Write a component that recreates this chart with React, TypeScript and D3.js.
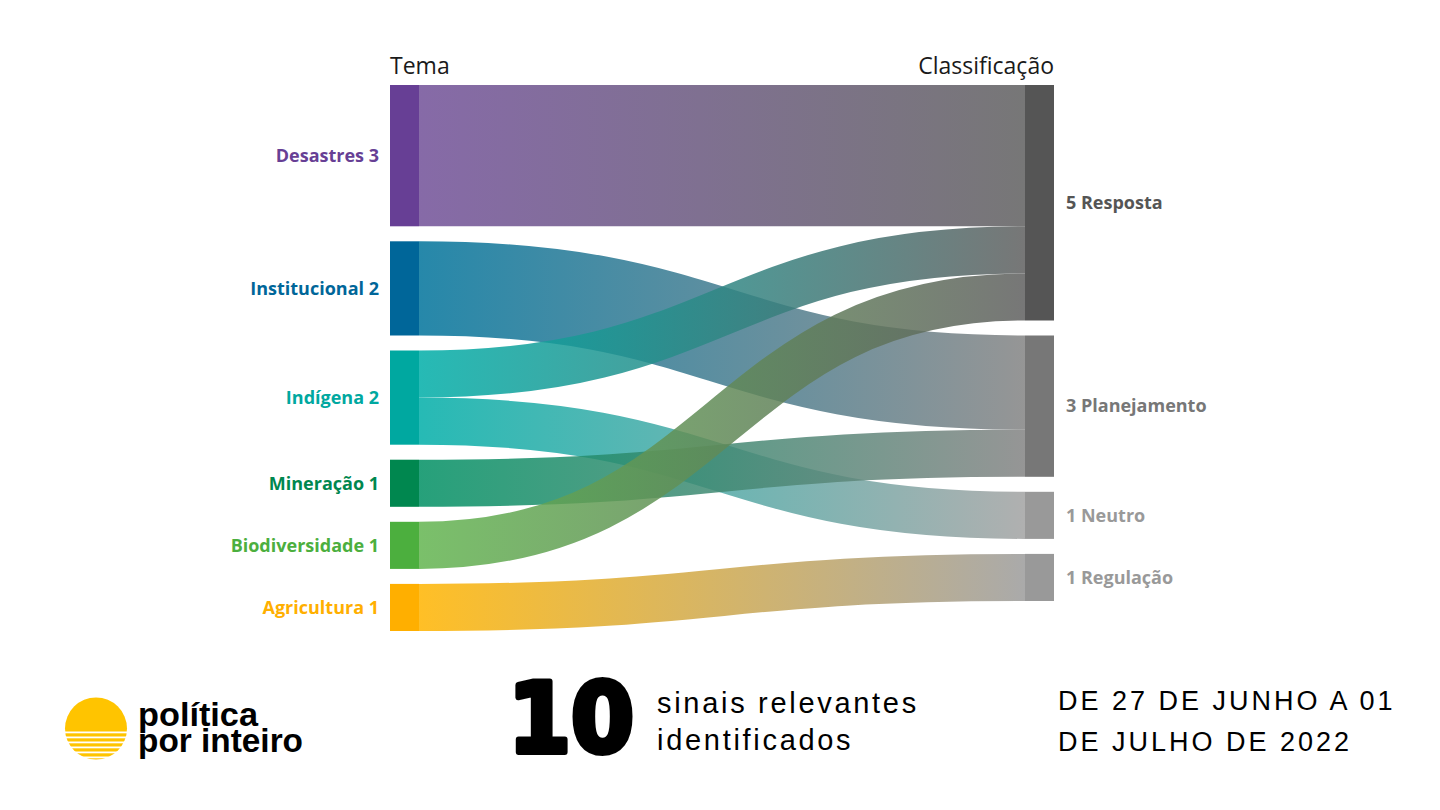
import React from 'react';
import * as d3 from 'd3';

// ---- data ----
const sourceNames = ['Desastres', 'Institucional', 'Indígena', 'Mineração', 'Biodiversidade', 'Agricultura'];
const sourceNodeColors = ['#673f95', '#006699', '#00a8a0', '#00874f', '#4caf3e', '#ffaf00'];
const sourceLinkColors = ['#715098', '#00739b', '#00aea8', '#009063', '#63b550', '#ffb400'];
const targetNames = ['Resposta', 'Planejamento', 'Neutro', 'Regulação'];
const targetNodeColors = ['#555555', '#777777', '#999999', '#999999'];
const targetLinkColors = ['#5f5f5f', '#838383', '#a2a2a2', '#9b9b9b'];
const linkSource = ['Desastres', 'Institucional', 'Indígena', 'Indígena', 'Mineração', 'Biodiversidade', 'Agricultura'];
const linkTarget = ['Resposta', 'Planejamento', 'Resposta', 'Neutro', 'Planejamento', 'Resposta', 'Regulação'];
const linkValue = [3, 2, 1, 1, 1, 1, 1];
const headerLeft = 'Tema';
const headerRight = 'Classificação';
const totalSignals = 10;

// ---- layout ----
const W = 1440, H = 810;
const top = 85, bottom = 631;
const xLeft = 390, xRight = 1025, nodeW = 29;
const pad = 15;

export default function App() {
  const total = d3.sum(linkValue);
  const srcVal = sourceNames.map(n => d3.sum(linkValue.filter((_, i) => linkSource[i] === n)));
  const tgtVal = targetNames.map(n => d3.sum(linkValue.filter((_, i) => linkTarget[i] === n)));
  const ky = (bottom - top - (sourceNames.length - 1) * pad) / total;
  const k = d3.scaleLinear().domain([0, total]).range([0, ky * total]);

  const stack = (vals: number[]) => {
    let y = top;
    return vals.map(v => {
      const y0 = y, y1 = y + k(v);
      y = y1 + pad;
      return { y0, y1 };
    });
  };
  const sNodes = stack(srcVal);
  const tNodes = stack(tgtVal);

  const sOff = sNodes.map(n => n.y0);
  const tOff = tNodes.map(n => n.y0);
  const linkGen = d3.linkHorizontal<any, [number, number]>().source(d => d.s).target(d => d.t);
  const links = linkValue.map((v, i) => {
    const si = sourceNames.indexOf(linkSource[i]);
    const ti = targetNames.indexOf(linkTarget[i]);
    const w = k(v);
    const ys = sOff[si] + w / 2; sOff[si] += w;
    const yt = tOff[ti] + w / 2; tOff[ti] += w;
    return { si, ti, w, d: linkGen({ s: [xLeft + nodeW, ys], t: [xRight, yt] }) as string };
  });

  const labelFont = '"Open Sans", "Noto Sans", sans-serif';

  return (
    <svg width={W} height={H} style={{ position: 'absolute', left: 0, top: 0, background: '#fff' }}>
      <defs>
        {links.map((l, i) => (
          <linearGradient key={i} id={`g${i}`} gradientUnits="userSpaceOnUse" x1={xLeft + nodeW} x2={xRight} y1={0} y2={0}>
            <stop offset="0%" stopColor={sourceLinkColors[l.si]} />
            <stop offset="100%" stopColor={targetLinkColors[l.ti]} />
          </linearGradient>
        ))}
      </defs>
      <rect x={0} y={0} width={W} height={H} fill="#fff" />
      <text x={xLeft} y={74} fontFamily={labelFont} fontSize={23} fill="#1a1a1a">{headerLeft}</text>
      <text x={xRight + nodeW} y={74} fontFamily={labelFont} fontSize={23} fill="#1a1a1a" textAnchor="end">{headerRight}</text>

      <g fill="none">
        {links.map((l, i) => (
          <path key={i} d={l.d} stroke={`url(#g${i})`} strokeWidth={l.w} strokeOpacity={0.85} />
        ))}
      </g>

      {sNodes.map((n, i) => (
        <g key={i}>
          <rect x={xLeft} y={n.y0} width={nodeW} height={n.y1 - n.y0} fill={sourceNodeColors[i]} />
          <text x={xLeft - 11} y={(n.y0 + n.y1) / 2} dy="0.35em" textAnchor="end" fontFamily={labelFont} fontWeight={700} fontSize={18} fill={sourceNodeColors[i]}>
            {`${sourceNames[i]} ${srcVal[i]}`}
          </text>
        </g>
      ))}
      {tNodes.map((n, i) => (
        <g key={i}>
          <rect x={xRight} y={n.y0} width={nodeW} height={n.y1 - n.y0} fill={targetNodeColors[i]} />
          <text x={xRight + nodeW + 12} y={(n.y0 + n.y1) / 2} dy="0.35em" fontFamily={labelFont} fontWeight={700} fontSize={18} fill={targetNodeColors[i]}>
            {`${tgtVal[i]} ${targetNames[i]}`}
          </text>
        </g>
      ))}

      {/* logo */}
      <g>
        <circle cx={96} cy={728.5} r={31} fill="#ffc400" />
        {[0, 1, 2, 3, 4, 5].map(j => (
          <rect key={j} x={60} y={731.5 + j * 5} width={72} height={1.8} fill="#fff" />
        ))}
        <text x={138} y={726} fontFamily='"Liberation Sans", Arial, sans-serif' fontWeight={700} fontSize={34} textLength={120} lengthAdjust="spacingAndGlyphs" fill="#000">política</text>
        <text x={138} y={752} fontFamily='"Liberation Sans", Arial, sans-serif' fontWeight={700} fontSize={34} textLength={165} lengthAdjust="spacingAndGlyphs" fill="#000">por inteiro</text>
      </g>

      <text x={508} y={752} fontFamily='"DejaVu Sans", sans-serif' fontWeight={700} fontSize={96} textLength={126} lengthAdjust="spacingAndGlyphs" fill="#000" stroke="#000" strokeWidth={6} strokeLinejoin="round">{String(totalSignals)}</text>
      <text x={657} y={713} fontFamily='"Liberation Sans", Arial, sans-serif' fontSize={29} letterSpacing={2.7} fill="#000">sinais relevantes</text>
      <text x={657} y={750} fontFamily='"Liberation Sans", Arial, sans-serif' fontSize={29} letterSpacing={2.7} fill="#000">identificados</text>

      <text x={1058} y={710} fontFamily='"Liberation Sans", Arial, sans-serif' fontSize={27} letterSpacing={3} fill="#000">DE 27 DE JUNHO A 01</text>
      <text x={1058} y={751} fontFamily='"Liberation Sans", Arial, sans-serif' fontSize={27} letterSpacing={3} fill="#000">DE JULHO DE 2022</text>
    </svg>
  );
}
